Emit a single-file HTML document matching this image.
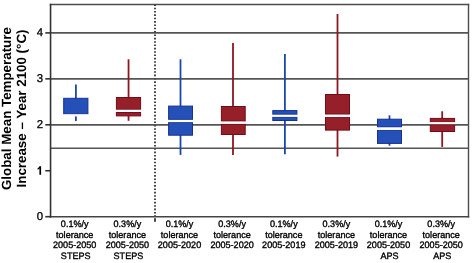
<!DOCTYPE html>
<html><head><meta charset="utf-8">
<style>
html,body{margin:0;padding:0;background:#fff;width:475px;height:263px;overflow:hidden}
svg{display:block;will-change:transform}
text{font-family:"Liberation Sans",sans-serif;text-rendering:geometricPrecision}
</style></head><body>
<svg width="475" height="263" viewBox="0 0 475 263">
<rect width="475" height="263" fill="#fff"/>
<g font-weight="bold" font-size="13.35" fill="#000" text-anchor="middle">
<text transform="translate(11.1,108.6) rotate(-90)">Global Mean Temperature</text>
<text transform="translate(26.4,108.5) rotate(-90)">Increase – Year 2100 (°C)</text>
</g>
<g font-size="11.4" fill="#000" stroke="#000" stroke-width="0.3" text-anchor="end">
<text x="43" y="36.2">4</text>
<text x="43" y="82.2">3</text>
<text x="43" y="128.3">2</text>

<text x="43" y="220.3">0</text>
</g>
<g stroke="#555" stroke-width="1.8">
<line x1="50" x2="468.5" y1="32.9" y2="32.9"/>
<line x1="50" x2="468.5" y1="78.85" y2="78.85"/>
<line x1="50" x2="468.5" y1="124.8" y2="124.8"/>
<line x1="50" x2="468.5" y1="148.2" y2="148.2" stroke-width="1.4" stroke="#555"/>
</g>
<g stroke="#333" stroke-width="1.6">
<line x1="45.3" x2="50.7" y1="32.9" y2="32.9"/>
<line x1="45.3" x2="50.7" y1="78.85" y2="78.85"/>
<line x1="45.3" x2="50.7" y1="124.8" y2="124.8"/>
<line x1="45.3" x2="50.7" y1="170.75" y2="170.75"/>
<line x1="45.3" x2="50.7" y1="216.7" y2="216.7"/>
</g>
<line x1="49.8" x2="469.2" y1="4.45" y2="4.45" stroke="#4d4d4d" stroke-width="1.4"/>
<line x1="468.5" x2="468.5" y1="3.8" y2="217.5" stroke="#4d4d4d" stroke-width="1.4"/>
<line x1="49.8" x2="469.2" y1="216.8" y2="216.8" stroke="#444" stroke-width="1.6"/>
<line x1="50.55" x2="50.55" y1="3.8" y2="217.6" stroke="#333" stroke-width="1.6"/>
<path d="M39.4 166.2H41.1V174.7H39.4V168.4Q38.6 169.3 37.6 169.7V168.3Q38.9 167.6 39.4 166.2Z" fill="#000"/>
<line x1="155" x2="155" y1="4.3" y2="217" stroke="#444" stroke-width="2" stroke-dasharray="1.6 1.748"/>
<line x1="155" x2="155" y1="218.2" y2="221.7" stroke="#444" stroke-width="2"/>
<line x1="75.9" x2="75.9" y1="84.4" y2="98.8" stroke="#1d45ab" stroke-width="1.8"/>
<line x1="75.9" x2="75.9" y1="116.2" y2="121.1" stroke="#1d45ab" stroke-width="1.8"/>
<rect x="63.7" y="98.3" width="24.2" height="15.6" fill="#2450b8" stroke="#153191" stroke-width="1"/>
<rect x="63.2" y="114.4" width="25.2" height="1.8" fill="#fff"/>
<line x1="128.55" x2="128.55" y1="59.3" y2="98" stroke="#8c1622" stroke-width="1.8"/>
<line x1="128.55" x2="128.55" y1="115.4" y2="120.8" stroke="#8c1622" stroke-width="1.8"/>
<rect x="116.4" y="97.5" width="24.2" height="11.8" fill="#96202a" stroke="#740b18" stroke-width="1"/>
<rect x="116.4" y="112.5" width="24.2" height="3.4" fill="#96202a" stroke="#740b18" stroke-width="1"/>
<rect x="115.9" y="109.8" width="25.2" height="2.2" fill="#fff"/>
<line x1="180.5" x2="180.5" y1="59.3" y2="106.6" stroke="#1d45ab" stroke-width="1.8"/>
<line x1="180.5" x2="180.5" y1="134.7" y2="154.9" stroke="#1d45ab" stroke-width="1.8"/>
<rect x="168.6" y="106.1" width="23.9" height="13.3" fill="#2450b8" stroke="#153191" stroke-width="1"/>
<rect x="168.6" y="122.6" width="23.9" height="12.6" fill="#2450b8" stroke="#153191" stroke-width="1"/>
<rect x="168.1" y="119.9" width="24.9" height="2.2" fill="#fff"/>
<line x1="233" x2="233" y1="42.9" y2="107" stroke="#8c1622" stroke-width="1.8"/>
<line x1="233" x2="233" y1="134" y2="154.9" stroke="#8c1622" stroke-width="1.8"/>
<rect x="221.4" y="106.5" width="23.8" height="14.6" fill="#96202a" stroke="#740b18" stroke-width="1"/>
<rect x="221.4" y="124.2" width="23.8" height="10.3" fill="#96202a" stroke="#740b18" stroke-width="1"/>
<rect x="220.9" y="121.6" width="24.8" height="2.1" fill="#fff"/>
<line x1="284.9" x2="284.9" y1="54" y2="111.1" stroke="#1d45ab" stroke-width="1.8"/>
<line x1="284.9" x2="284.9" y1="120" y2="154.2" stroke="#1d45ab" stroke-width="1.8"/>
<rect x="272.8" y="110.6" width="24.1" height="3.7" fill="#2450b8" stroke="#153191" stroke-width="1"/>
<rect x="272.8" y="117.2" width="24.1" height="3.3" fill="#2450b8" stroke="#153191" stroke-width="1"/>
<rect x="272.3" y="114.8" width="25.1" height="1.9" fill="#fff"/>
<line x1="337.5" x2="337.5" y1="14" y2="95" stroke="#8c1622" stroke-width="1.8"/>
<line x1="337.5" x2="337.5" y1="129.6" y2="156.6" stroke="#8c1622" stroke-width="1.8"/>
<rect x="325.5" y="94.5" width="24" height="19.7" fill="#96202a" stroke="#740b18" stroke-width="1"/>
<rect x="325.5" y="117.3" width="24" height="12.8" fill="#96202a" stroke="#740b18" stroke-width="1"/>
<rect x="325" y="114.7" width="25" height="2.1" fill="#fff"/>
<line x1="389.5" x2="389.5" y1="115.3" y2="119.7" stroke="#1d45ab" stroke-width="1.8"/>
<line x1="389.5" x2="389.5" y1="142.9" y2="145.7" stroke="#1d45ab" stroke-width="1.8"/>
<rect x="377.5" y="119.2" width="24" height="7.8" fill="#2450b8" stroke="#153191" stroke-width="1"/>
<rect x="377.5" y="130.3" width="24" height="13.1" fill="#2450b8" stroke="#153191" stroke-width="1"/>
<rect x="377" y="127.5" width="25" height="2.3" fill="#fff"/>
<line x1="442.2" x2="442.2" y1="111.3" y2="118.9" stroke="#8c1622" stroke-width="1.8"/>
<line x1="442.2" x2="442.2" y1="131" y2="146.9" stroke="#8c1622" stroke-width="1.8"/>
<rect x="430.3" y="118.4" width="24.3" height="3.4" fill="#96202a" stroke="#740b18" stroke-width="1"/>
<rect x="430.3" y="124.7" width="24.3" height="6.8" fill="#96202a" stroke="#740b18" stroke-width="1"/>
<rect x="429.8" y="122.3" width="25.3" height="1.9" fill="#fff"/>
<g font-size="9.3" fill="#000" stroke="#000" stroke-width="0.35" text-anchor="middle">
<text transform="translate(74.7,227.1) scale(0.975,1)">0.1%/y</text><text transform="translate(74.7,237.6) scale(0.975,1)">tolerance</text><text transform="translate(74.7,248.1) scale(0.975,1)">2005-2050</text>
<text transform="translate(75.7,259.3) scale(0.975,1)">STEPS</text>
<text transform="translate(127.4,227.1) scale(0.975,1)">0.3%/y</text><text transform="translate(127.4,237.6) scale(0.975,1)">tolerance</text><text transform="translate(127.4,248.1) scale(0.975,1)">2005-2050</text>
<text transform="translate(128.4,259.3) scale(0.975,1)">STEPS</text>
<text transform="translate(179.5,227.1) scale(0.975,1)">0.1%/y</text><text transform="translate(179.5,237.6) scale(0.975,1)">tolerance</text><text transform="translate(179.5,248.1) scale(0.975,1)">2005-2020</text>
<text transform="translate(232.1,227.1) scale(0.975,1)">0.3%/y</text><text transform="translate(232.1,237.6) scale(0.975,1)">tolerance</text><text transform="translate(232.1,248.1) scale(0.975,1)">2005-2020</text>
<text transform="translate(283.8,227.1) scale(0.975,1)">0.1%/y</text><text transform="translate(283.8,237.6) scale(0.975,1)">tolerance</text><text transform="translate(283.8,248.1) scale(0.975,1)">2005-2019</text>
<text transform="translate(336.4,227.1) scale(0.975,1)">0.3%/y</text><text transform="translate(336.4,237.6) scale(0.975,1)">tolerance</text><text transform="translate(336.4,248.1) scale(0.975,1)">2005-2019</text>
<text transform="translate(388.5,227.1) scale(0.975,1)">0.1%/y</text><text transform="translate(388.5,237.6) scale(0.975,1)">tolerance</text><text transform="translate(388.5,248.1) scale(0.975,1)">2005-2050</text>
<text transform="translate(389.5,259.3) scale(0.975,1)">APS</text>
<text transform="translate(441.2,227.1) scale(0.975,1)">0.3%/y</text><text transform="translate(441.2,237.6) scale(0.975,1)">tolerance</text><text transform="translate(441.2,248.1) scale(0.975,1)">2005-2050</text>
<text transform="translate(442.2,259.3) scale(0.975,1)">APS</text>
</g>
</svg>
</body></html>
